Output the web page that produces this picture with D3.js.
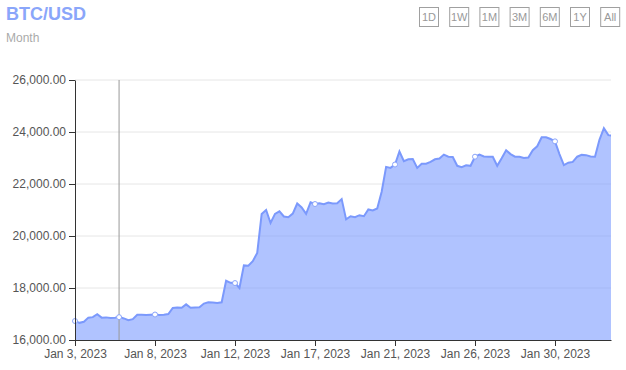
<!DOCTYPE html>
<html>
<head>
<meta charset="utf-8">
<script src="https://cdn.jsdelivr.net/npm/d3@7"></script>
<style>
  body { margin:0; background:#fff; }
  text { font-family: "Liberation Sans", Arial, sans-serif; }
</style>
</head>
<body>
<div id="plot"></div>
<script>
// data: BTC/USD price, one value every 6 hours from Jan 3 2023 00:00
var startDate = new Date(2023, 0, 3, 0, 0);
var stepHours = 6;
var prices = [
  16730,16660,16700,16860,16880,16990,16860,16870,16850,16860,
  16880,16830,16760,16800,16970,16970,16960,16970,16980,16960,
  16970,17000,17230,17250,17240,17370,17240,17250,17260,17400,
  17450,17440,17420,17450,18280,18200,18190,18000,18870,18860,
  19030,19350,20850,21000,20500,20850,20950,20750,20720,20860,
  21250,21100,20850,21300,21230,21260,21220,21290,21250,21260,
  21420,20640,20760,20720,20800,20760,21020,20980,21060,21700,
  22660,22620,22750,23250,22880,22950,22960,22620,22780,22780,
  22850,22950,22980,23130,23050,23040,22700,22650,22720,22700,
  23050,23130,23060,23050,23050,22700,22990,23300,23150,23050,
  23050,23000,23020,23300,23450,23800,23800,23730,23640,23150,
  22730,22820,22850,23050,23120,23110,23060,23050,23700,24150,
  23880,23860
];
var yTicks = [16000, 18000, 20000, 22000, 24000, 26000];
var xTickLabels = ["Jan 3, 2023","Jan 8, 2023","Jan 12, 2023","Jan 17, 2023","Jan 21, 2023","Jan 26, 2023","Jan 30, 2023"];
var tickStepHours = 108; // ticks every 4.5 days
var hoverDate = new Date(2023, 0, 5, 11, 30);
var buttons = ["1D","1W","1M","3M","6M","1Y","All"];

var W = 626, H = 370;
var margin = {t:80, r:15, b:30, l:75};
var width = W - margin.l - margin.r,
    height = H - margin.t - margin.b;

var data = prices.map(function(v, i){
    return {date: new Date(startDate.getTime() + i*stepHours*3600e3), value: v};
});
var tickDates = xTickLabels.map(function(d, i){
    return new Date(startDate.getTime() + i*tickStepHours*3600e3);
});

var svg = d3.select('#plot').append('svg')
    .attr('width', W).attr('height', H);

// title
svg.append('text').attr('x', 6).attr('y', 20)
    .style('font-size', '18px').style('font-weight', 'bold')
    .style('fill', '#8aa6fa').text('BTC/USD');
svg.append('text').attr('x', 6).attr('y', 42)
    .style('font-size', '12px').style('fill', '#aaa').text('Month');

// range buttons
var btn = svg.selectAll('.btn').data(buttons).enter().append('g')
    .attr('class', 'btn')
    .attr('transform', function(d, i){ return 'translate(' + (419 + i*30.2) + ',7)'; });
btn.append('rect').attr('x', 0.5).attr('y', 0.5).attr('width', 19).attr('height', 19)
    .style('fill', '#fff').style('stroke', '#a0a0a0');
btn.append('text').attr('x', 10).attr('y', 14).attr('text-anchor', 'middle')
    .style('font-size', '11px').style('fill', '#999').text(function(d){ return d; });

var plot = svg.append('g')
    .attr('transform', 'translate(' + margin.l + ',' + margin.t + ')');

var x = d3.scaleTime()
    .domain([startDate, new Date(startDate.getTime() + 30.15*24*3600e3)])
    .range([0, width]);
var y = d3.scaleLinear().domain([16000, 26000]).range([height, 0]);

plot.append('clipPath').attr('id', 'clip').append('rect')
    .attr('width', width).attr('height', height);

// grid
plot.selectAll('.grid').data(yTicks.slice(1)).enter().append('line')
    .attr('x1', 0).attr('x2', width)
    .attr('y1', function(d){ return y(d); }).attr('y2', function(d){ return y(d); })
    .style('stroke', '#e6e6e6');

var area = d3.area()
    .x(function(d){ return x(d.date); })
    .y0(height)
    .y1(function(d){ return y(d.value); });
var line = d3.line()
    .x(function(d){ return x(d.date); })
    .y(function(d){ return y(d.value); });

var g = plot.append('g').attr('clip-path', 'url(#clip)');
g.append('path').datum(data).attr('d', area)
    .style('fill', '#7b9bff').style('fill-opacity', 0.6);
g.append('path').datum(data).attr('d', line)
    .style('fill', 'none').style('stroke', '#7b99fc').style('stroke-width', 2);

// crosshair
plot.append('line')
    .attr('x1', x(hoverDate)).attr('x2', x(hoverDate))
    .attr('y1', 0).attr('y2', height)
    .style('stroke', '#999').style('stroke-width', 1);

// markers on the line
var bisect = d3.bisector(function(d){ return d.date; }).left;
function valueAt(dt){
    var i = Math.min(Math.max(bisect(data, dt), 1), data.length - 1);
    var a = data[i-1], b = data[i];
    var t = (dt - a.date) / (b.date - a.date);
    return a.value + (b.value - a.value) * t;
}
plot.selectAll('.mark').data(tickDates.concat([hoverDate])).enter().append('circle')
    .attr('cx', function(d){ return x(d); })
    .attr('cy', function(d){ return y(valueAt(d)); })
    .attr('r', 2.5)
    .style('fill', '#fff').style('stroke', '#8aa4fa').style('stroke-width', 1);

// axes
var fmt = d3.format(',.2f');
var yAxis = plot.append('g').call(d3.axisLeft(y).tickValues(yTicks).tickFormat(fmt).tickSizeOuter(0));
var xAxis = plot.append('g').attr('transform', 'translate(0,' + height + ')')
    .call(d3.axisBottom(x).tickValues(tickDates)
        .tickFormat(function(d, i){ return xTickLabels[i]; }).tickSizeOuter(0));
[xAxis, yAxis].forEach(function(a){
    a.select('.domain').style('stroke', '#333');
    a.selectAll('.tick line').style('stroke', '#333');
    a.selectAll('.tick text').style('font-size', '12px').style('fill', '#555')
        .style('font-family', '"Liberation Sans", Arial, sans-serif');
});
</script>
</body>
</html>
